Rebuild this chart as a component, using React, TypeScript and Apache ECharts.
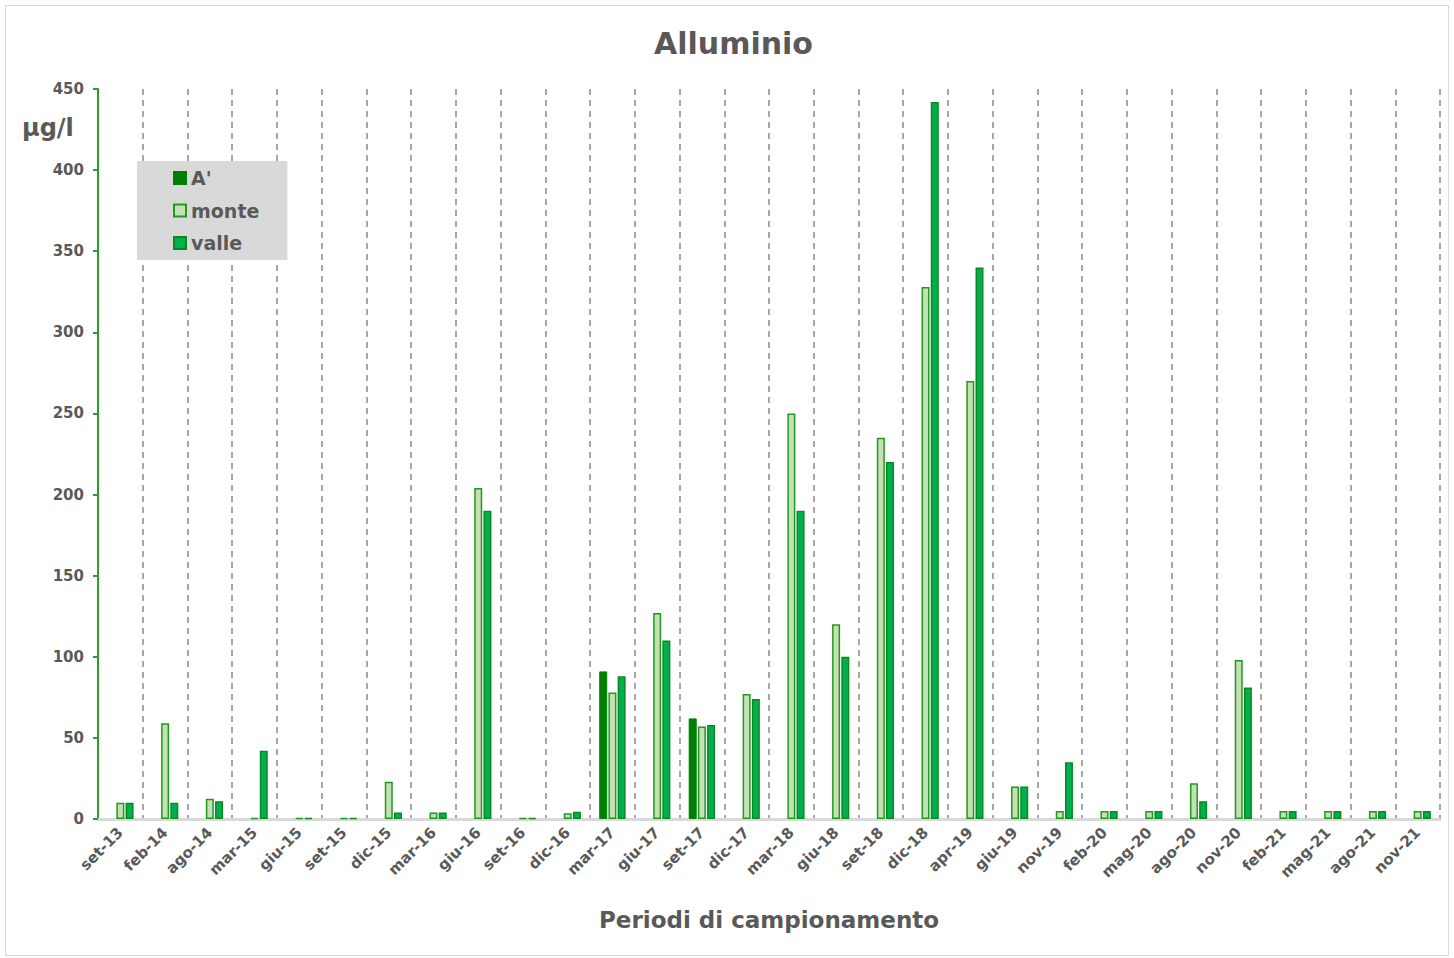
import React, { useEffect, useRef } from "react";
import * as echarts from "echarts";

const categories = [
  "set-13", "feb-14", "ago-14", "mar-15", "giu-15", "set-15", "dic-15", "mar-16", "giu-16", "set-16",
  "dic-16", "mar-17", "giu-17", "set-17", "dic-17", "mar-18", "giu-18", "set-18", "dic-18", "apr-19",
  "giu-19", "nov-19", "feb-20", "mag-20", "ago-20", "nov-20", "feb-21", "mag-21", "ago-21", "nov-21",
];

const aPrime = [
  null, null, null, null, null, null, null, null, null, null,
  null, 91, null, 62, null, null, null, null, null, null,
  null, null, null, null, null, null, null, null, null, null,
];

const monte = [
  10, 59, 12.5, 0.5, 0.5, 0.5, 23, 4, 204, 0.5,
  3.5, 78, 127, 57, 77, 250, 120, 235, 328, 270,
  20, 5, 5, 5, 22, 98, 5, 5, 5, 5,
];

const valle = [
  10, 10, 11, 42, 0.5, 0.5, 4, 4, 190, 0.5,
  4.5, 88, 110, 58, 74, 190, 100, 220, 442, 340,
  20, 35, 5, 5, 11, 81, 5, 5, 5, 5,
];

const FONT = "DejaVu Sans";
const GRAY = "#595959";

export default function App() {
  const ref = useRef<HTMLDivElement>(null);
  useEffect(() => {
    const chart = echarts.init(ref.current!, null, { renderer: "svg" });
    chart.setOption({
      animation: false,
      backgroundColor: "#ffffff",
      title: {
        text: "Alluminio",
        left: 649,
        top: 23,
        textStyle: { fontFamily: FONT, fontSize: 30, fontWeight: "bold", color: GRAY },
      },
      graphic: [
        {
          type: "rect",
          shape: { x: 5.5, y: 5.5, width: 1443, height: 950 },
          style: { fill: "none", stroke: "#d9d9d9", lineWidth: 1 },
          silent: true,
        },
        {
          type: "text",
          left: 22,
          top: 116,
          style: { text: "µg/l", fontFamily: FONT, fontSize: 24, fontWeight: "bold", fill: GRAY },
        },
      ],
      legend: {
        orient: "vertical",
        left: 137,
        top: 161,
        backgroundColor: "#d9d9d9",
        padding: [7, 28, 7, 36],
        itemWidth: 12,
        itemHeight: 12,
        itemGap: 12.5,
        icon: "rect",
        textStyle: { fontFamily: FONT, fontSize: 19, fontWeight: "bold", color: GRAY, lineHeight: 20 },
        data: ["A'", "monte", "valle"],
      },
      grid: { left: 98, right: 14, top: 89, bottom: 139, containLabel: false },
      xAxis: {
        type: "category",
        data: categories,
        name: "Periodi di campionamento",
        nameLocation: "middle",
        nameGap: 89,
        nameTextStyle: { fontFamily: FONT, fontSize: 23, fontWeight: "bold", color: GRAY },
        axisLine: { lineStyle: { color: "#d9d9d9", width: 3 } },
        axisTick: { show: false },
        axisLabel: {
          interval: 0,
          rotate: 45,
          margin: 11,
          fontFamily: FONT,
          fontSize: 15,
          fontWeight: "bold",
          color: GRAY,
        },
        splitLine: { show: true, lineStyle: { color: "#a6a6a6", width: 2, type: [6, 5] } },
      },
      yAxis: {
        type: "value",
        min: 0,
        max: 450,
        interval: 50,
        axisLine: { show: true, lineStyle: { color: "#2e9e2e", width: 2 } },
        axisTick: { show: true, length: 5, lineStyle: { color: "#2e9e2e", width: 2 } },
        axisLabel: { fontFamily: FONT, fontSize: 15, fontWeight: "bold", color: GRAY, margin: 14 },
        splitLine: { show: false },
      },
      series: [
        {
          name: "A'",
          type: "bar",
          data: aPrime,
          barWidth: 8,
          barGap: "15%",
          itemStyle: { color: "#008000", borderColor: "#008000", borderWidth: 1 },
        },
        {
          name: "monte",
          type: "bar",
          data: monte,
          barWidth: 8,
          barGap: "15%",
          itemStyle: { color: "#c6e0b4", borderColor: "#1e9a1e", borderWidth: 1.5 },
        },
        {
          name: "valle",
          type: "bar",
          data: valle,
          barWidth: 8,
          barGap: "15%",
          itemStyle: { color: "#00b050", borderColor: "#0a8a1e", borderWidth: 1.5 },
        },
      ],
    });
    return () => chart.dispose();
  }, []);
  return (
    <div
      ref={ref}
      style={{ position: "fixed", left: 0, top: 0, width: 1454, height: 958 }}
    />
  );
}
